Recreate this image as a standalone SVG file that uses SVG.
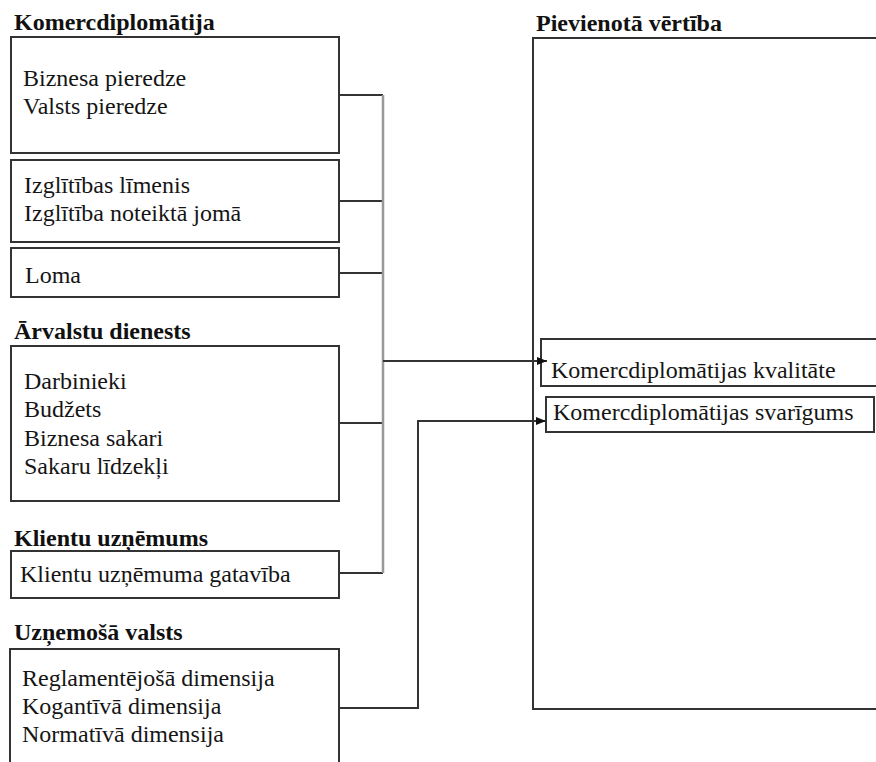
<svg xmlns="http://www.w3.org/2000/svg" width="876" height="762" viewBox="0 0 876 762">
<style>
.box{fill:#fff;stroke:#333;stroke-width:2}
text{font-family:'Liberation Serif','Times New Roman','DejaVu Serif',serif;font-size:24px;fill:#151515}
.h{font-weight:bold;fill:#111}
.ln{fill:none;stroke:#333;stroke-width:2}
.bus{fill:none;stroke:#999;stroke-width:2.5}
</style>
<defs>
<marker id="ah" markerWidth="10" markerHeight="8" refX="10" refY="4" orient="auto" markerUnits="userSpaceOnUse">
<path d="M0,0 L10,4 L0,8 Z" fill="#111"/>
</marker>
</defs>
<rect width="876" height="762" fill="#fff"/>

<g id="pievienota">
<text class="h" x="536" y="31">Pievienotā vērtība</text>
<rect class="box" x="533" y="38" width="360" height="671"/>
</g>

<g id="komercdiplomatija-title"><text class="h" x="14" y="30">Komercdiplomātija</text></g>
<g id="node-pieredze">
<rect class="box" x="11" y="37" width="328" height="116"/>
<text x="23" y="86">Biznesa pieredze</text>
<text x="23" y="114">Valsts pieredze</text>
</g>
<g id="node-izglitiba">
<rect class="box" x="11" y="160" width="328" height="82"/>
<text x="24" y="193">Izglītības līmenis</text>
<text x="24" y="221">Izglītība noteiktā jomā</text>
</g>
<g id="node-loma">
<rect class="box" x="11" y="248" width="328" height="49"/>
<text x="25" y="283">Loma</text>
</g>

<g id="arvalstu-title"><text class="h" x="14" y="339">Ārvalstu dienests</text></g>
<g id="node-arvalstu">
<rect class="box" x="11" y="346" width="328" height="155"/>
<text x="24" y="389">Darbinieki</text>
<text x="24" y="417">Budžets</text>
<text x="24" y="446">Biznesa sakari</text>
<text x="24" y="474">Sakaru līdzekļi</text>
</g>

<g id="klientu-title"><text class="h" x="14" y="546">Klientu uzņēmums</text></g>
<g id="node-klientu">
<rect class="box" x="11" y="551" width="328" height="47"/>
<text x="20" y="582">Klientu uzņēmuma gatavība</text>
</g>

<g id="uznemosa-title"><text class="h" x="14" y="640">Uzņemošā valsts</text></g>
<g id="node-uznemosa">
<rect class="box" x="10" y="649" width="329" height="130"/>
<text x="22" y="686">Reglamentējošā dimensija</text>
<text x="22" y="714">Kogantīvā dimensija</text>
<text x="22" y="742">Normatīvā dimensija</text>
</g>

<g id="node-kvalitate">
<rect class="box" x="541" y="339" width="345" height="47"/>
<text x="551" y="378">Komercdiplomātijas kvalitāte</text>
</g>
<g id="node-svarigums">
<rect class="box" x="546" y="397" width="328" height="35"/>
<text x="553" y="420">Komercdiplomātijas svarīgums</text>
</g>

<g id="connectors">
<path class="ln" d="M339,95 H383"/>
<path class="ln" d="M339,201 H383"/>
<path class="ln" d="M339,273 H383"/>
<path class="ln" d="M339,423 H383"/>
<path class="ln" d="M339,573 H383"/>
<path class="bus" d="M383,95 V573"/>
<path class="ln" d="M383,361 H547" marker-end="url(#ah)"/>
<path class="ln" d="M339,708 H418 V421 H546" marker-end="url(#ah)"/>
</g>
</svg>
